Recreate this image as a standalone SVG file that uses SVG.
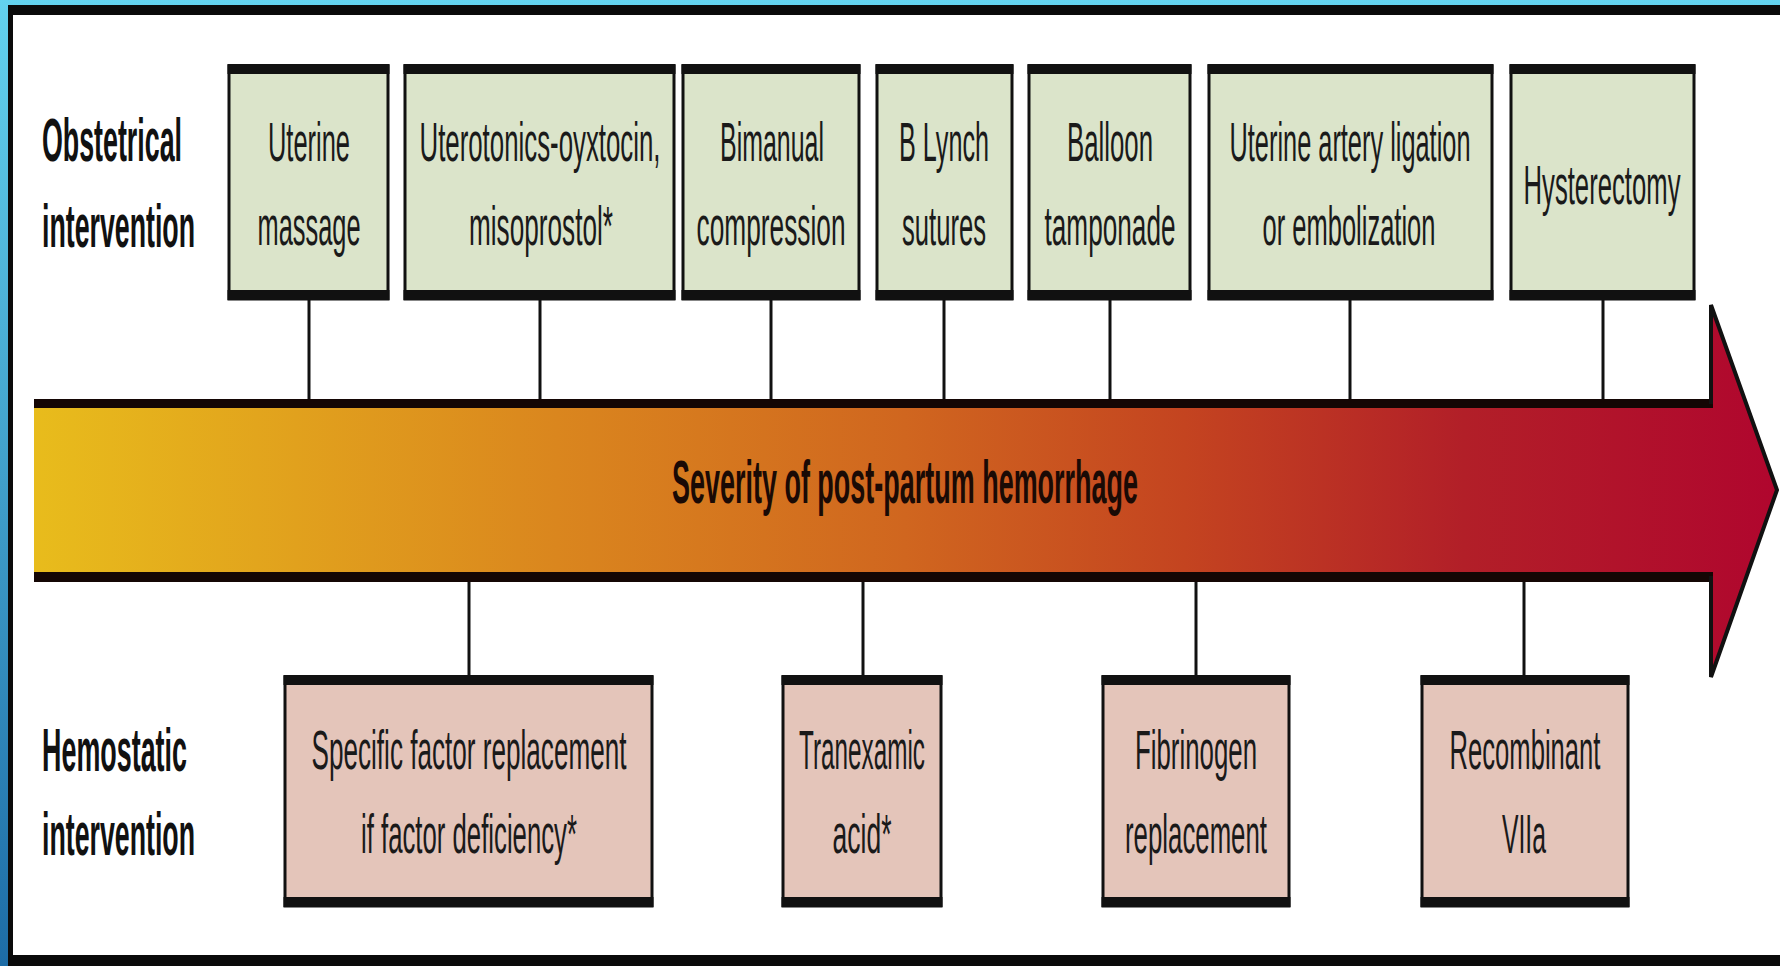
<svg xmlns="http://www.w3.org/2000/svg" width="1780" height="966" viewBox="0 0 1780 966">
  <defs>
    <linearGradient id="bg" x1="0" y1="0" x2="0" y2="1">
      <stop offset="0" stop-color="#63d2ee"/>
      <stop offset="1" stop-color="#1d6ca6"/>
    </linearGradient>
    <linearGradient id="sev" gradientUnits="userSpaceOnUse" x1="34" y1="0" x2="1777" y2="0">
      <stop offset="0" stop-color="#e8bc1c"/>
      <stop offset="0.3" stop-color="#da861e"/>
      <stop offset="0.5" stop-color="#d0661f"/>
      <stop offset="0.66" stop-color="#c44420"/>
      <stop offset="0.82" stop-color="#b21f28"/>
      <stop offset="1" stop-color="#b0062e"/>
    </linearGradient>
    <style>
      .box { stroke: #111; stroke-width: 3; }
      .obs { fill: #dbe4ca; }
      .hem { fill: #e4c5ba; }
      .bar { fill: #111; }
      .t { font-family: "Liberation Sans", Arial, sans-serif; font-size: 55px; fill: #1a1a1a; text-anchor: middle; }
      .lab { font-family: "Liberation Sans", Arial, sans-serif; font-size: 62px; font-weight: bold; fill: #111; }
      .sev { font-family: "Liberation Sans", Arial, sans-serif; font-size: 62px; font-weight: bold; fill: #1a0a05; text-anchor: middle; }
      .conn line { stroke: #111; stroke-width: 3; }
    </style>
  </defs>

  <!-- frame -->
  <rect x="0" y="0" width="1780" height="966" fill="url(#bg)"/>
  <rect x="12" y="14" width="1768" height="942" fill="#ffffff"/>
  <rect x="8" y="5" width="1772" height="10" fill="#0a0a0a"/>
  <rect x="8" y="5" width="5" height="961" fill="#0a0a0a"/>
  <rect x="8" y="955" width="1772" height="11" fill="#0a0a0a"/>

  <!-- row labels -->
  <g id="label-obstetrical">
    <text class="lab" x="42" y="161" textLength="140" lengthAdjust="spacingAndGlyphs">Obstetrical</text>
    <text class="lab" x="42" y="247" textLength="153" lengthAdjust="spacingAndGlyphs">intervention</text>
  </g>
  <g id="label-hemostatic">
    <text class="lab" x="42" y="771" textLength="145" lengthAdjust="spacingAndGlyphs">Hemostatic</text>
    <text class="lab" x="42" y="855" textLength="153" lengthAdjust="spacingAndGlyphs">intervention</text>
  </g>

  <!-- connectors -->
  <g id="connectors" class="conn">
    <line x1="309" y1="300" x2="309" y2="402"/>
    <line x1="540" y1="300" x2="540" y2="402"/>
    <line x1="771" y1="300" x2="771" y2="402"/>
    <line x1="944" y1="300" x2="944" y2="402"/>
    <line x1="1110" y1="300" x2="1110" y2="402"/>
    <line x1="1350" y1="300" x2="1350" y2="402"/>
    <line x1="1603" y1="300" x2="1603" y2="402"/>
    <line x1="469" y1="578" x2="469" y2="677"/>
    <line x1="863" y1="578" x2="863" y2="677"/>
    <line x1="1196" y1="578" x2="1196" y2="677"/>
    <line x1="1524" y1="578" x2="1524" y2="677"/>
  </g>

  <!-- severity arrow -->
  <g id="severity-arrow">
    <path d="M34,400 H1711 V305 L1777,490 L1711,677 V581 H34 Z" fill="url(#sev)"/>
    <rect x="34" y="399" width="1679" height="9" fill="#140604"/>
    <rect x="34" y="572" width="1679" height="10" fill="#140604"/>
    <path d="M1711,404 V305 L1777,490 L1711,677 V576" fill="none" stroke="#111" stroke-width="4" stroke-linejoin="miter"/>
    <text class="sev" x="905" y="503" textLength="466" lengthAdjust="spacingAndGlyphs">Severity of post-partum hemorrhage</text>
  </g>

  <!-- obstetrical interventions -->
  <g id="uterine-massage">
    <rect class="box obs" x="229" y="66" width="159" height="233"/>
    <rect class="bar" x="227.5" y="64" width="162" height="10"/>
    <rect class="bar" x="227.5" y="290" width="162" height="10"/>
    <text class="t" x="309" y="161" textLength="82" lengthAdjust="spacingAndGlyphs">Uterine</text>
    <text class="t" x="309" y="245" textLength="103" lengthAdjust="spacingAndGlyphs">massage</text>
  </g>
  <g id="uterotonics">
    <rect class="box obs" x="405" y="66" width="269" height="233"/>
    <rect class="bar" x="403.5" y="64" width="272" height="10"/>
    <rect class="bar" x="403.5" y="290" width="272" height="10"/>
    <text class="t" x="540" y="161" textLength="241" lengthAdjust="spacingAndGlyphs">Uterotonics-oyxtocin,</text>
    <text class="t" x="541" y="245" textLength="144" lengthAdjust="spacingAndGlyphs">misoprostol*</text>
  </g>
  <g id="bimanual-compression">
    <rect class="box obs" x="683" y="66" width="176" height="233"/>
    <rect class="bar" x="681.5" y="64" width="179" height="10"/>
    <rect class="bar" x="681.5" y="290" width="179" height="10"/>
    <text class="t" x="772" y="161" textLength="104" lengthAdjust="spacingAndGlyphs">Bimanual</text>
    <text class="t" x="771" y="245" textLength="149" lengthAdjust="spacingAndGlyphs">compression</text>
  </g>
  <g id="b-lynch-sutures">
    <rect class="box obs" x="877" y="66" width="135" height="233"/>
    <rect class="bar" x="875.5" y="64" width="138" height="10"/>
    <rect class="bar" x="875.5" y="290" width="138" height="10"/>
    <text class="t" x="944" y="161" textLength="90" lengthAdjust="spacingAndGlyphs">B Lynch</text>
    <text class="t" x="944" y="245" textLength="84" lengthAdjust="spacingAndGlyphs">sutures</text>
  </g>
  <g id="balloon-tamponade">
    <rect class="box obs" x="1029" y="66" width="161" height="233"/>
    <rect class="bar" x="1027.5" y="64" width="164" height="10"/>
    <rect class="bar" x="1027.5" y="290" width="164" height="10"/>
    <text class="t" x="1110" y="161" textLength="86" lengthAdjust="spacingAndGlyphs">Balloon</text>
    <text class="t" x="1110" y="245" textLength="131" lengthAdjust="spacingAndGlyphs">tamponade</text>
  </g>
  <g id="uterine-artery-ligation">
    <rect class="box obs" x="1209" y="66" width="283" height="233"/>
    <rect class="bar" x="1207.5" y="64" width="286" height="10"/>
    <rect class="bar" x="1207.5" y="290" width="286" height="10"/>
    <text class="t" x="1350" y="161" textLength="241" lengthAdjust="spacingAndGlyphs">Uterine artery ligation</text>
    <text class="t" x="1349" y="245" textLength="173" lengthAdjust="spacingAndGlyphs">or embolization</text>
  </g>
  <g id="hysterectomy">
    <rect class="box obs" x="1511" y="66" width="183" height="233"/>
    <rect class="bar" x="1509.5" y="64" width="186" height="10"/>
    <rect class="bar" x="1509.5" y="290" width="186" height="10"/>
    <text class="t" x="1602" y="204" textLength="157" lengthAdjust="spacingAndGlyphs">Hysterectomy</text>
  </g>

  <!-- hemostatic interventions -->
  <g id="specific-factor">
    <rect class="box hem" x="285" y="677" width="367" height="229"/>
    <rect class="bar" x="283.5" y="675" width="370" height="10"/>
    <rect class="bar" x="283.5" y="897" width="370" height="10"/>
    <text class="t" x="469" y="769" textLength="315" lengthAdjust="spacingAndGlyphs">Specific factor replacement</text>
    <text class="t" x="469" y="853" textLength="216" lengthAdjust="spacingAndGlyphs">if factor deficiency*</text>
  </g>
  <g id="tranexamic-acid">
    <rect class="box hem" x="783" y="677" width="158" height="229"/>
    <rect class="bar" x="781.5" y="675" width="161" height="10"/>
    <rect class="bar" x="781.5" y="897" width="161" height="10"/>
    <text class="t" x="862" y="769" textLength="126" lengthAdjust="spacingAndGlyphs">Tranexamic</text>
    <text class="t" x="862" y="853" textLength="59" lengthAdjust="spacingAndGlyphs">acid*</text>
  </g>
  <g id="fibrinogen-replacement">
    <rect class="box hem" x="1103" y="677" width="186" height="229"/>
    <rect class="bar" x="1101.5" y="675" width="189" height="10"/>
    <rect class="bar" x="1101.5" y="897" width="189" height="10"/>
    <text class="t" x="1196" y="769" textLength="122" lengthAdjust="spacingAndGlyphs">Fibrinogen</text>
    <text class="t" x="1196" y="853" textLength="142" lengthAdjust="spacingAndGlyphs">replacement</text>
  </g>
  <g id="recombinant-viia">
    <rect class="box hem" x="1422" y="677" width="206" height="229"/>
    <rect class="bar" x="1420.5" y="675" width="209" height="10"/>
    <rect class="bar" x="1420.5" y="897" width="209" height="10"/>
    <text class="t" x="1525" y="769" textLength="151" lengthAdjust="spacingAndGlyphs">Recombinant</text>
    <text class="t" x="1524" y="853" textLength="44" lengthAdjust="spacingAndGlyphs">VIIa</text>
  </g>
</svg>
